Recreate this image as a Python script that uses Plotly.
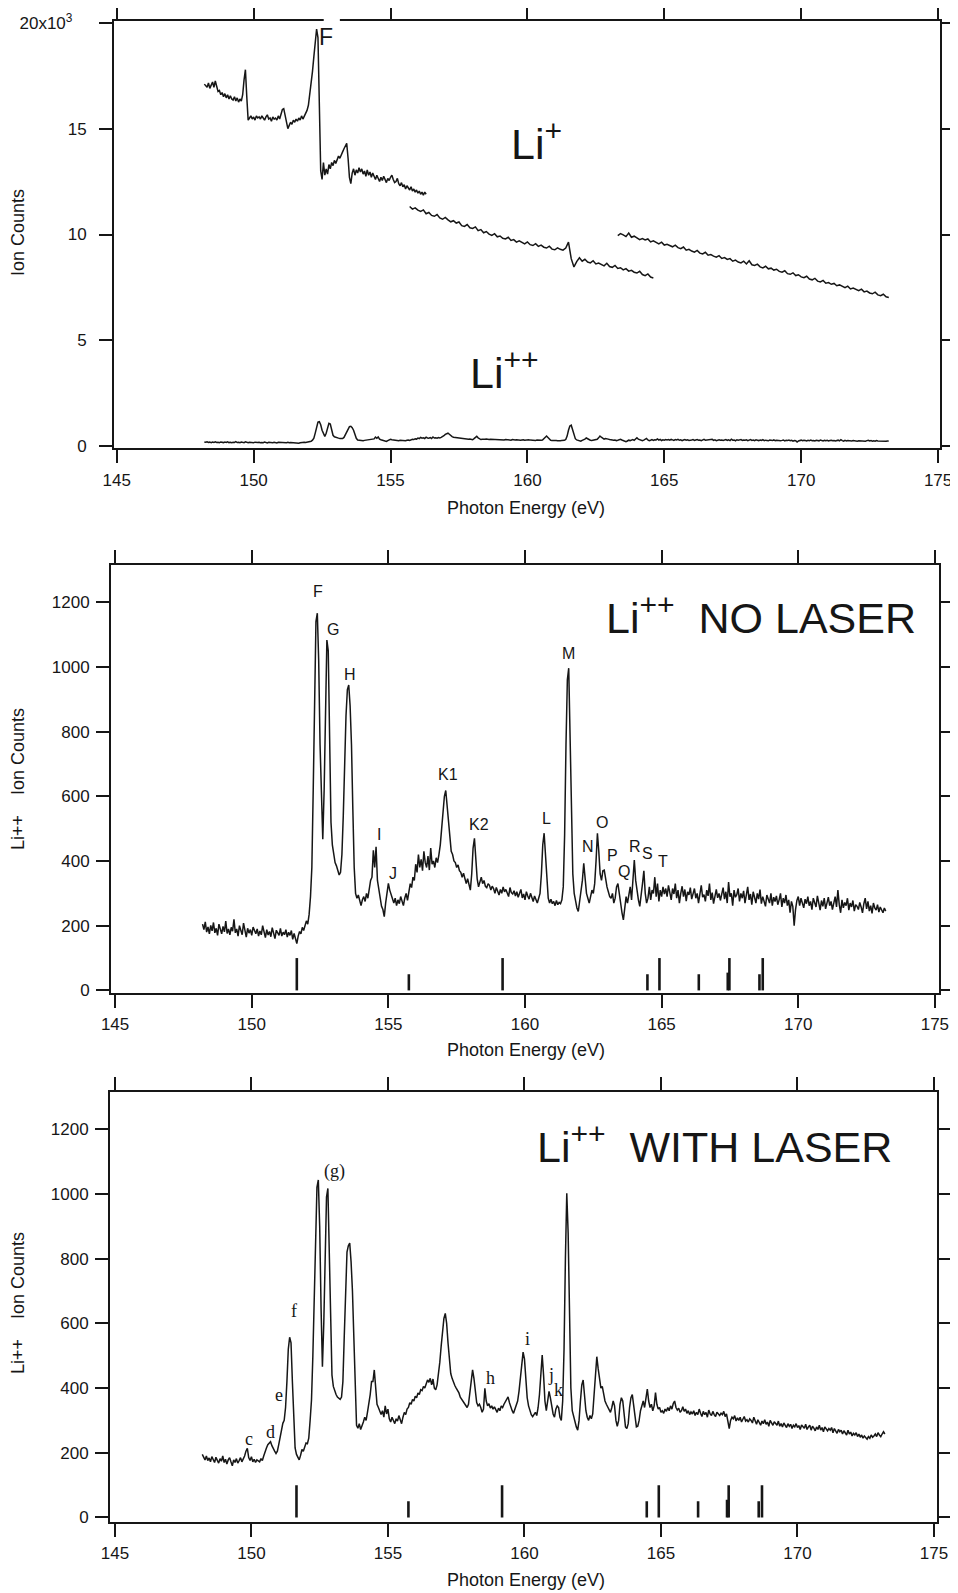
import numpy as np
import plotly.graph_objects as go

# ---------------- data ----------------
# Li++ ion counts, NO LASER (photon energy grid starts 148.20 eV, step 0.05 eV)
no_laser_start, no_laser_step = 148.20, 0.05
no_laser_counts = [
    205, 188, 212, 180, 196, 175, 201, 184, 210, 178, 192, 170, 205, 186, 175, 198, 181, 214, 176, 190,  # 148.2
    172, 195, 183, 220, 178, 190, 168, 200, 185, 172, 208, 180, 165, 192, 177, 188, 170, 196, 182, 175,  # 149.2
    190, 168, 184, 172, 200, 176, 163, 188, 171, 182, 166, 194, 175, 160, 186, 178, 170, 192, 168, 180,  # 150.2
    172, 188, 165, 180, 170, 185, 158, 176, 162, 145, 168, 182, 175, 195, 185, 200, 215, 205, 235, 290,  # 151.2
    380, 620, 900, 1140, 1166, 1020, 760, 560, 467, 620, 900, 1083, 1050, 760, 520, 450, 420, 395, 385, 370,  # 152.2
    357, 365, 420, 540, 700, 850, 930, 944, 880, 760, 560, 380, 300, 285, 295, 278, 262, 280, 290, 275,  # 153.2
    300, 285, 310, 340, 350, 433, 380, 444, 340, 310, 285, 260, 250, 228, 270, 300, 331, 310, 295, 280,  # 154.2
    270, 285, 262, 280, 268, 290, 275, 262, 285, 300, 278, 310, 330, 318, 350, 340, 390, 365, 420, 380,  # 155.2
    405, 370, 430, 395, 380, 415, 372, 440, 390, 400, 380, 410, 395, 420, 450, 500, 560, 600, 618, 570,  # 156.2
    500, 460, 430, 420, 400, 395, 380, 388, 370, 365, 350, 362, 340, 330, 345, 322, 310, 360, 440, 470,  # 157.2
    400, 345, 320, 335, 350, 330, 340, 322, 318, 330, 325, 310, 322, 315, 300, 318, 305, 295, 312, 300,  # 158.2
    320, 305, 312, 300, 290, 318, 302, 298, 308, 292, 305, 288, 300, 312, 286, 298, 280, 305, 292, 282,  # 159.2
    300, 288, 275, 292, 280, 270, 285, 300, 360, 450, 486, 420, 320, 285, 270, 282, 268, 275, 262, 278,  # 160.2
    265, 272, 268, 280, 320, 480, 760, 960, 996, 800, 520, 360, 300, 275, 255, 244, 280, 300, 340, 393,  # 161.2
    350, 300, 285, 270, 290, 310, 300, 330, 400, 486, 430, 360, 340, 370, 372, 340, 320, 305, 290, 285,  # 162.2
    300, 270, 285, 320, 330, 300, 260, 240, 218, 250, 290, 270, 300, 320, 280, 330, 403, 340, 300, 280,  # 163.2
    260, 290, 330, 370, 300, 270, 285, 320, 280, 310, 300, 350, 290, 330, 275, 310, 290, 320, 298, 315,  # 164.2
    290, 325, 305, 280, 315, 298, 330, 285, 310, 270, 300, 322, 290, 312, 276, 305, 295, 318, 282, 300,  # 165.2
    315, 285, 300, 270, 305, 325, 288, 296, 275, 310, 292, 330, 280, 302, 268, 298, 312, 286, 300, 278,  # 166.2
    295, 318, 282, 305, 270, 335, 290, 300, 262, 310, 288, 296, 315, 275, 300, 285, 308, 270, 295, 320,  # 167.2
    280, 298, 265, 305, 288, 270, 300, 282, 312, 268, 290, 278, 260, 295, 285, 270, 300, 262, 288, 275,  # 168.2
    292, 265, 280, 300, 258, 285, 270, 295, 262, 280, 240, 275, 260, 200, 250, 278, 290, 262, 285, 270,  # 169.2
    255, 282, 268, 290, 262, 275, 250, 285, 270, 258, 292, 265, 248, 278, 260, 285, 252, 270, 288, 262,  # 170.2
    275, 250, 268, 290, 258, 310, 265, 240, 280, 255, 272, 262, 285, 248, 270, 258, 278, 245, 265, 260,  # 171.2
    250, 272, 258, 240, 268, 285, 252, 275, 245, 262, 238, 270, 255, 248, 265, 242, 258, 250, 240, 255,  # 172.2
    245,
]

# Li++ ion counts, WITH LASER (same energy grid)
with_laser_counts = [
    195, 185, 178, 190, 176, 184, 172, 188, 180, 170, 186, 175, 168, 182, 174, 190, 170, 180, 165, 178,  # 148.2
    185, 172, 160, 178, 170, 182, 168, 176, 185, 172, 180, 190, 205, 214, 185, 176, 188, 172, 180, 170,  # 149.2
    178, 175, 172, 182, 176, 190, 205, 215, 225, 230, 234, 222, 212, 205, 198, 205, 225, 250, 278, 291,  # 150.2
    300, 340, 420, 520, 557, 540, 420, 280, 215, 195, 185, 178, 192, 210, 205, 222, 230, 228, 245, 300,  # 151.2
    363, 500, 700, 900, 1020, 1043, 900, 650, 466, 600, 850, 990, 1017, 820, 560, 440, 405, 390, 380, 372,  # 152.2
    368, 365, 372, 420, 560, 720, 820, 840, 848, 790, 700, 560, 380, 285, 276, 290, 272, 288, 295, 310,  # 153.2
    300, 325, 350, 380, 420, 420, 456, 410, 350, 340, 325, 318, 330, 310, 345, 320, 335, 305, 295, 310,  # 154.2
    300, 290, 305, 298, 315, 300, 290, 310, 325, 318, 335, 340, 355, 350, 365, 360, 375, 370, 385, 380,  # 155.2
    395, 392, 405, 400, 415, 425, 418, 430, 410, 428, 400, 395, 410, 440, 480, 530, 580, 615, 631, 600,  # 156.2
    540, 480, 445, 430, 415, 408, 400, 392, 385, 372, 365, 358, 350, 345, 340, 350, 380, 420, 456, 430,  # 157.2
    380, 355, 345, 350, 340, 325, 335, 399, 360, 345, 352, 338, 345, 335, 342, 330, 325, 338, 330, 345,  # 158.2
    340, 350, 358, 365, 373, 355, 338, 330, 322, 335, 345, 360, 390, 430, 480, 511, 490, 420, 370, 345,  # 159.2
    330, 318, 312, 320, 325, 315, 340, 380, 450, 502, 440, 360, 330, 365, 390, 370, 340, 320, 310, 335,  # 160.2
    345, 340, 310, 300, 360, 520, 800, 1002, 880, 600, 400, 330, 310, 295, 280, 270, 300, 360, 410, 425,  # 161.2
    380, 330, 310, 300, 315, 305, 320, 380, 450, 497, 460, 420, 400, 405, 380, 360, 350, 340, 330, 325,  # 162.2
    340, 360, 345, 300, 282, 300, 350, 370, 360, 310, 280, 275, 290, 340, 370, 380, 345, 300, 280, 282,  # 163.2
    300, 330, 350, 360, 340, 370, 397, 360, 340, 350, 330, 345, 386, 350, 335, 340, 325, 330, 322, 335,  # 164.2
    328, 340, 330, 345, 335, 352, 360, 340, 332, 338, 325, 330, 342, 328, 335, 322, 330, 318, 326, 320,  # 165.2
    330, 315, 325, 318, 335, 322, 312, 328, 318, 325, 310, 332, 320, 315, 328, 318, 312, 325, 320, 315,  # 166.2
    322, 318, 328, 312, 320, 290, 275, 300, 310, 305, 315, 298, 308, 300, 310, 295, 305, 312, 298, 302,  # 167.2
    295, 305, 300, 292, 310, 298, 288, 302, 295, 285, 298, 290, 302, 288, 295, 282, 300, 292, 285, 296,  # 168.2
    290, 285, 298, 282, 290, 280, 292, 286, 278, 290, 282, 288, 275, 285, 280, 290, 278, 284, 272, 286,  # 169.2
    280, 276, 288, 272, 280, 285, 270, 282, 276, 268, 280, 272, 285, 270, 278, 265, 280, 272, 268, 275,  # 170.2
    270, 278, 262, 275, 268, 260, 272, 265, 270, 258, 268, 262, 255, 270, 258, 264, 252, 260, 255, 262,  # 171.2
    250, 258, 248, 255, 245, 252, 248, 242, 250, 245, 255, 248, 252, 258, 250, 262, 255, 250, 258, 265,  # 172.2
    258,
]

# Li+ ion counts, three scans
li_plus_1_start, li_plus_1_step = 148.20, 0.05
li_plus_1 = [
    17100, 17000, 16950, 17150, 16900, 17050, 17200, 16950, 17250, 17000, 16750, 16800, 16600, 16700, 16500, 16650, 16450, 16600, 16400, 16550,
    16400, 16350, 16500, 16300, 16450, 16250, 16400, 16300, 16600, 17300, 17780, 16500, 15400, 15500, 15600, 15450, 15550, 15400, 15600, 15500,
    15550, 15450, 15600, 15500, 15400, 15550, 15650, 15450, 15500, 15350, 15550, 15450, 15500, 15400, 15600, 15450, 15700, 15900, 15940, 15600,
    15200, 15000, 15150, 15300, 15200, 15400, 15300, 15450, 15350, 15500, 15400, 15600, 15450, 15600, 15750, 15860, 16100, 16600, 17100, 17700,
    18400, 19100, 19700, 19300, 16000, 13000, 12600, 13400, 12800, 13100, 12850, 13300, 13100, 13400, 13250, 13500, 13350, 13550, 13700, 13600,
    13800, 13900, 14050, 14150, 14300, 13600, 12700, 12400, 12900, 13100, 12800, 13050, 12900, 13150, 12950, 13100, 12850, 13000, 12750, 13050,
    12800, 12950, 12700, 12900, 12750, 12600, 12800, 12650, 12500, 12700, 12550, 12750, 12600, 12450, 12650, 12550, 12700, 12800, 12600, 12450,
    12500, 12650, 12400, 12300, 12450, 12250, 12350, 12150, 12300, 12200, 12100, 12250, 12050, 12150, 12000, 12100, 11950, 12050, 11900, 12000,
    11850, 12000, 11900,
]
li_plus_2_start, li_plus_2_step = 155.70, 0.10
li_plus_2 = [
    11320, 11200, 11260, 11150, 11090, 11160, 10980, 11040, 10900, 10860,
    10940, 10780, 10720, 10810, 10690, 10600, 10650, 10540, 10590, 10420,
    10380, 10470, 10320, 10290, 10360, 10180, 10230, 10080, 10140, 10020,
    9960, 10040, 9890, 9930, 9820, 9790, 9870, 9720, 9760, 9640,
    9700, 9610, 9560, 9650, 9520, 9480, 9570, 9440, 9500, 9400,
    9360, 9450, 9310, 9280, 9370, 9300, 9260, 9360, 9640, 8860,
    8470, 8720, 8900, 8740, 8830, 8700, 8660, 8760, 8610, 8650,
    8580, 8520, 8640, 8490, 8450, 8540, 8400, 8430, 8330, 8390,
    8270, 8310, 8220, 8180, 8260, 8110, 8060, 8140, 7990, 7950,
]
li_plus_3_start, li_plus_3_step = 163.30, 0.10
li_plus_3 = [
    9950, 10040, 9980, 9900, 10070, 9870, 9920, 9850, 9760, 9810,
    9740, 9790, 9650, 9700, 9610, 9560, 9640, 9500, 9540, 9470,
    9420, 9500, 9380, 9330, 9410, 9260, 9300, 9220, 9170, 9250,
    9120, 9080, 9160, 9020, 9050, 8980, 8930, 9000, 8870, 8910,
    8820, 8860, 8740, 8790, 8700, 8660, 8740, 8610, 8760, 8570,
    8540, 8600, 8470, 8420, 8500, 8380, 8410, 8320, 8360, 8260,
    8220, 8290, 8150, 8120, 8190, 8060, 8100, 8000, 7960, 8030,
    7900, 7860, 7930, 7800, 7760, 7830, 7700, 7730, 7650, 7690,
    7580, 7620, 7550, 7490, 7560, 7430, 7470, 7400, 7350, 7420,
    7290, 7330, 7240, 7200, 7280, 7150, 7110, 7180, 7060, 7030,
]

# calculated level positions (bars at the bottom of the Li++ panels)
bar_energy = [151.65, 155.75, 159.18, 164.48, 164.92, 166.36, 167.42, 167.48, 168.58, 168.70]
bar_height = [100, 50, 100, 50, 100, 50, 55, 100, 50, 100]

# peak labels
no_laser_labels = ["F", "G", "H", "I", "J", "K1", "K2", "L", "M", "N", "O", "P", "Q", "R", "S", "T"]
no_laser_label_x = [152.44, 152.97, 153.58, 154.64, 155.16, 157.18, 158.33, 160.79, 161.58, 162.31, 162.80, 163.21, 163.61, 164.03, 164.47, 165.06]
no_laser_label_y = [1233, 1117, 977, 483, 360, 666, 512, 532, 1042, 445, 519, 417, 367, 446, 424, 398]

with_laser_labels = ["c", "d", "e", "f", "(g)", "h", "i", "j", "k"]
with_laser_label_x = [149.90, 150.71, 151.00, 151.56, 153.06, 158.77, 160.12, 160.99, 161.25]
with_laser_label_y = [242, 265, 379, 639, 1069, 430, 551, 440, 394]

x_ticks = [145, 150, 155, 160, 165, 170, 175]
top_y_ticks = [0, 5000, 10000, 15000, 20000]
top_y_ticktext = ["0", "5", "10", "15", "20x10<sup>3</sup>\u00a0\u00a0\u00a0"]
li_y_ticks = [0, 200, 400, 600, 800, 1000, 1200]


def energy_grid(start, step, n):
    return np.round(start + step * np.arange(n), 2)


e_main = energy_grid(no_laser_start, no_laser_step, len(no_laser_counts))
e_with = energy_grid(no_laser_start, no_laser_step, len(with_laser_counts))
e_p1 = energy_grid(li_plus_1_start, li_plus_1_step, len(li_plus_1))
e_p2 = energy_grid(li_plus_2_start, li_plus_2_step, len(li_plus_2))
e_p3 = energy_grid(li_plus_3_start, li_plus_3_step, len(li_plus_3))

bar_x, bar_y = [], []
for e, h in zip(bar_energy, bar_height):
    bar_x += [e, e, None]
    bar_y += [0, h, None]

# ---------------- figure ----------------
# the page body has an 8 px margin; lay the figure out in screen pixels
OFF = 8
W, H = 950, 1585
INK = "#161616"
LINE = dict(color=INK, width=1.5)
FONT = "Liberation Sans, Arial, Helvetica, sans-serif"
SERIF = "Liberation Serif, Times New Roman, serif"

fig = go.Figure()
for ex, ys in [(e_p1, li_plus_1), (e_p2, li_plus_2), (e_p3, li_plus_3), (e_main, no_laser_counts)]:
    fig.add_trace(go.Scatter(x=ex, y=ys, mode="lines", line=LINE, xaxis="x", yaxis="y",
                             showlegend=False, hoverinfo="skip"))
fig.add_trace(go.Scatter(x=e_main, y=no_laser_counts, mode="lines", line=LINE, xaxis="x2", yaxis="y2",
                         showlegend=False))
fig.add_trace(go.Scatter(x=bar_x, y=bar_y, mode="lines", line=dict(color=INK, width=2.6),
                         xaxis="x2", yaxis="y2", showlegend=False))
fig.add_trace(go.Scatter(x=e_with, y=with_laser_counts, mode="lines", line=LINE, xaxis="x3", yaxis="y3",
                         showlegend=False))
fig.add_trace(go.Scatter(x=bar_x, y=bar_y, mode="lines", line=dict(color=INK, width=2.6),
                         xaxis="x3", yaxis="y3", showlegend=False))


def px_x(p):
    return (p - OFF) / W


def px_y(p):
    return 1 - (p - OFF) / H


axis_common = dict(showline=True, linecolor=INK, linewidth=2, mirror="allticks",
                   ticks="outside", ticklen=13, tickwidth=2, tickcolor=INK,
                   showgrid=False, zeroline=False, automargin=False,
                   tickfont=dict(family=FONT, size=17, color=INK))

fig.update_layout(
    width=W, height=H, margin=dict(l=0, r=0, t=0, b=0, pad=0, autoexpand=False),
    paper_bgcolor="white", plot_bgcolor="white", showlegend=False,
    xaxis=dict(domain=[px_x(114), px_x(940)], range=[144.90, 175.07], tickvals=x_ticks,
               anchor="y", ticklabelstandoff=3, **axis_common),
    yaxis=dict(domain=[px_y(448), px_y(20.7)], range=[-80, 20094], tickvals=top_y_ticks,
               ticktext=top_y_ticktext, anchor="x", ticklabelstandoff=9, **axis_common),
    xaxis2=dict(domain=[px_x(111), px_x(939)], range=[144.85, 175.15], tickvals=x_ticks,
                anchor="y2", ticklabelstandoff=2, **axis_common),
    yaxis2=dict(domain=[px_y(993), px_y(565)], range=[-8, 1315], tickvals=li_y_ticks,
                anchor="x2", ticklabelstandoff=3, **axis_common),
    xaxis3=dict(domain=[px_x(110), px_x(937)], range=[144.82, 175.11], tickvals=x_ticks,
                anchor="y3", ticklabelstandoff=2, **axis_common),
    yaxis3=dict(domain=[px_y(1521.7), px_y(1092)], range=[-13, 1315], tickvals=li_y_ticks,
                anchor="x3", ticklabelstandoff=3, **axis_common),
)

ann = []
TITLE_FONT = dict(family=FONT, size=18, color=INK)
# axis titles
for ycen, txt in [(233, "Ion Counts"), (779, "Li++\u00a0\u00a0\u00a0\u00a0Ion Counts"),
                  (1303, "Li++\u00a0\u00a0\u00a0\u00a0Ion Counts")]:
    ann.append(dict(x=px_x(18), y=px_y(ycen), xref="paper", yref="paper", text=txt, textangle=-90,
                    xanchor="center", yanchor="middle", showarrow=False, font=TITLE_FONT))
for ycen in [508, 1050, 1580]:
    ann.append(dict(x=px_x(526), y=px_y(ycen), xref="paper", yref="paper", text="Photon Energy (eV)",
                    xanchor="center", yanchor="middle", showarrow=False, font=TITLE_FONT))

BIG = dict(family=FONT, size=43, color=INK)
ann.append(dict(x=159.33, y=14410, xref="x", yref="y", text="Li<sup>+</sup>", xanchor="left",
                yanchor="middle", showarrow=False, font=BIG))
ann.append(dict(x=157.83, y=3600, xref="x", yref="y", text="Li<sup>++</sup>", xanchor="left",
                yanchor="middle", showarrow=False, font=BIG))
ann.append(dict(x=152.65, y=19330, xref="x", yref="y", text="F", showarrow=False,
                font=dict(family=FONT, size=23, color=INK)))
ann.append(dict(x=162.9, y=1161, xref="x2", yref="y2", text="Li<sup>++</sup>\u00a0\u00a0NO LASER",
                xanchor="left", yanchor="middle", showarrow=False, font=BIG))
ann.append(dict(x=160.38, y=1154, xref="x3", yref="y3", text="Li<sup>++</sup>\u00a0\u00a0WITH LASER",
                xanchor="left", yanchor="middle", showarrow=False, font=BIG))

for t, xv, yv in zip(no_laser_labels, no_laser_label_x, no_laser_label_y):
    ann.append(dict(x=xv, y=yv, xref="x2", yref="y2", text=t, showarrow=False,
                    font=dict(family=FONT, size=16, color=INK)))
for t, xv, yv in zip(with_laser_labels, with_laser_label_x, with_laser_label_y):
    ann.append(dict(x=xv, y=yv, xref="x3", yref="y3", text=t, showarrow=False,
                    font=dict(family=SERIF, size=18, color=INK)))

fig.update_layout(annotations=ann)

# gap in the top frame of the Li+ panel above the "F" label
fig.add_shape(type="rect", xref="x", yref="paper", x0=152.56, x1=153.15,
              y0=px_y(24), y1=px_y(17), fillcolor="white", line=dict(width=0), layer="above")

fig.write_html("out.html")
